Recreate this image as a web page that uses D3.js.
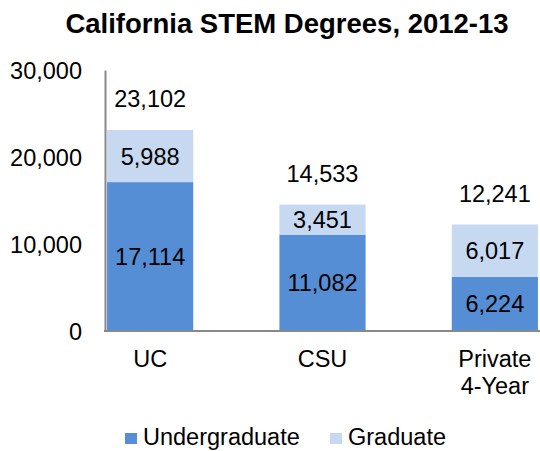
<!DOCTYPE html>
<html><head><meta charset="utf-8">
<script src="https://cdn.jsdelivr.net/npm/d3@7"></script>
<style>body{margin:0;background:#fff;}svg{display:block;font-family:"Liberation Sans",Arial,sans-serif;}</style>
</head><body>
<svg id="c" width="540" height="451"></svg>
<script>
const categories = ["UC", "CSU", "Private\n4-Year"];
const undergraduate = [17114, 11082, 6224];
const graduate = [5988, 3451, 6017];
const totals = [23102, 14533, 12241];
const yTicks = [0, 10000, 20000, 30000];
const seriesNames = ["Undergraduate", "Graduate"];
const colors = ["#558ed5", "#c6d9f1"];

const FS = 23.5;
const svg = d3.select("#c");
const x = d3.scaleBand().domain(categories).range([64, 581]).paddingInner(0.5).paddingOuter(0.25);
const y = d3.scaleLinear().domain([0, 30000]).range([331, 70]);
const fmt = d3.format(",");

svg.append("text").attr("x", 287).attr("y", 33).attr("text-anchor", "middle")
  .attr("font-weight", "bold").attr("font-size", 27.5).text("California STEM Degrees, 2012-13");

const data = categories.map((c, i) => ({c, u: undergraduate[i], g: graduate[i], t: totals[i]}));
const stack = d3.stack().keys(["u", "g"])(data);

stack.forEach((s, si) => {
  svg.append("g").selectAll("rect").data(s).join("rect")
    .attr("x", d => x(d.data.c)).attr("width", x.bandwidth())
    .attr("y", d => y(d[1])).attr("height", d => y(d[0]) - y(d[1]))
    .attr("fill", colors[si]);
  svg.append("g").selectAll("text").data(s).join("text")
    .attr("x", d => x(d.data.c) + x.bandwidth() / 2)
    .attr("y", d => (y(d[0]) + y(d[1])) / 2)
    .attr("dy", "0.36em").attr("text-anchor", "middle").attr("font-size", FS)
    .text(d => fmt(d[1] - d[0]));
});

svg.append("g").selectAll("text").data(data).join("text")
  .attr("x", d => x(d.c) + x.bandwidth() / 2)
  .attr("y", d => y(d.t) - 31).attr("dy", "0.36em")
  .attr("text-anchor", "middle").attr("font-size", FS).text(d => fmt(d.t));

// Y axis
const yAxis = svg.append("g").attr("transform", "translate(105,0)")
  .call(d3.axisLeft(y).tickValues(yTicks).tickFormat(fmt).tickSize(0).tickPadding(23));
yAxis.select(".domain").attr("stroke", "#888").attr("stroke-width", 2);
yAxis.selectAll("text").attr("font-size", FS).attr("fill", "#000").attr("dy", "0.36em")
  .attr("font-family", "Liberation Sans, Arial, sans-serif");

// X axis line
svg.append("line").attr("x1", 104).attr("x2", 540).attr("y1", y(0)).attr("y2", y(0))
  .attr("stroke", "#888").attr("stroke-width", 2);

// Category labels
const cl = svg.append("g").selectAll("text").data(categories).join("text")
  .attr("x", d => x(d) + x.bandwidth() / 2).attr("y", 367)
  .attr("text-anchor", "middle").attr("font-size", FS);
cl.selectAll("tspan").data(d => d.split("\n")).join("tspan")
  .attr("x", function() { return this.parentNode.getAttribute("x"); })
  .attr("dy", (d, i) => i === 0 ? 0 : 27).text(d => d);

// Legend
const legX = [125, 330];
seriesNames.forEach((n, i) => {
  svg.append("rect").attr("x", legX[i]).attr("y", 433).attr("width", 12).attr("height", 11).attr("fill", colors[i]);
  svg.append("text").attr("x", legX[i] + 18).attr("y", 445).attr("font-size", FS).text(n);
});
</script>
</body></html>
